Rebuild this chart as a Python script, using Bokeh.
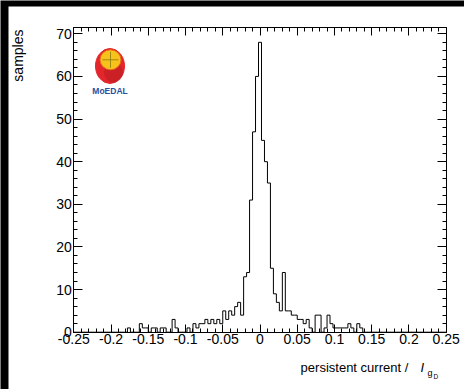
from math import pi
from bokeh.plotting import figure
from bokeh.models import FixedTicker, LinearAxis, Label, Range1d
from bokeh.embed import file_html
from bokeh.resources import INLINE

# ---- data ----
x_min, x_max = -0.25, 0.25
bin_width = 0.004
counts = [
    0, 0, 0, 0, 0, 0, 0, 0, 0, 0,          # 0-9
    0, 0, 0, 0, 0, 0, 0, 0, 1, 0,          # 10-19
    0, 0, 2, 1, 1, 0, 1, 1, 0, 1,          # 20-29
    1, 0, 0, 3, 1, 0, 0, 0, 1, 0,          # 30-39
    2, 1, 2, 2, 3, 2, 3, 2, 3, 2,          # 40-49
    5, 3, 5, 4, 6, 7, 4, 13, 14, 31,       # 50-59
    47, 60, 68, 45, 40, 35, 15, 9, 7, 5,   # 60-69
    14, 5, 5, 4, 4, 3, 3, 2, 3, 1,         # 70-79
    0, 4, 4, 0, 1, 4, 2, 1, 1, 1,          # 80-89
    1, 1, 2, 1, 0, 2, 1, 0, 0, 0,          # 90-99
    0, 0, 0, 0, 0, 0, 0, 0, 0, 0,          # 100-109
    0, 0, 0, 0, 0, 0, 0, 0, 0, 0,          # 110-119
    0, 0, 0, 0, 0,                         # 120-124
]
x_major_ticks = [-0.25, -0.2, -0.15, -0.1, -0.05, 0.0, 0.05, 0.1, 0.15, 0.2, 0.25]
x_tick_labels = ["-0.25", "-0.2", "-0.15", "-0.1", "-0.05", "0", "0.05", "0.1", "0.15", "0.2", "0.25"]
y_major_ticks = [0, 10, 20, 30, 40, 50, 60, 70]
y_max = 71.5
x_title = "persistent current  / "
y_title = "samples"

edges = [x_min + i * bin_width for i in range(len(counts) + 1)]
step_y = counts + [counts[-1]]
x_minor = [round(x_min + 0.01 * i, 4) for i in range(51)]
y_minor = list(range(0, 72, 2))

FONT = "Liberation Sans"

# ---- page geometry (figure fills the window from (0,0)) ----
W, H = 464, 389
PX_L, PX_R = 73.3, 445.7        # page x of x_min / x_max
PY_0, PY_70 = 331.7, 33.3       # page y of 0 / 70
sx = (PX_R - PX_L) / (x_max - x_min)
sy = (PY_0 - PY_70) / 70.0


def dx(px):
    return x_min + (px - PX_L) / sx


def dy(py):
    return (PY_0 - py) / sy


p = figure(width=W, height=H,
           x_range=Range1d(dx(0), dx(W)), y_range=Range1d(dy(H), dy(0)),
           output_backend="svg", toolbar_location=None,
           x_axis_location=None, y_axis_location=None,
           min_border_left=0, min_border_right=0, min_border_top=0, min_border_bottom=0)
p.grid.visible = False
p.outline_line_color = None
p.background_fill_color = "black"
p.border_fill_color = "black"

# white picture area inside the black surround
p.quad(left=[dx(8)], right=[dx(W + 2)], top=[dy(6)], bottom=[dy(H + 2)],
       fill_color="white", line_color=None)

overrides = {t: s for t, s in zip(x_major_ticks, x_tick_labels)}


def make_axis(loc, bounds, major, minor, tick_len, labels):
    ax = LinearAxis(fixed_location=loc, bounds=bounds,
                    ticker=FixedTicker(ticks=major, minor_ticks=minor))
    ax.major_tick_in = tick_len
    ax.major_tick_out = 0
    ax.minor_tick_in = tick_len // 2
    ax.minor_tick_out = 0
    ax.axis_line_color = "black"
    ax.major_tick_line_color = "black"
    ax.minor_tick_line_color = "black"
    ax.major_label_text_font = FONT
    ax.major_label_text_font_size = "14px"
    ax.major_label_standoff = 2
    if labels:
        ax.major_label_text_color = "black"
    else:
        ax.major_label_text_color = None
    return ax


bottom = make_axis(0, (x_min, x_max), x_major_ticks, x_minor, 8, True)
bottom.major_label_overrides = overrides
p.add_layout(bottom, "below")
p.add_layout(make_axis(y_max, (x_min, x_max), x_major_ticks, x_minor, 8, False), "above")
p.add_layout(make_axis(x_min, (0, y_max), y_major_ticks, y_minor, 9, True), "left")
p.add_layout(make_axis(x_max, (0, y_max), y_major_ticks, y_minor, 9, False), "right")

# histogram outline
p.step(x=edges, y=step_y, mode="after", line_color="black", line_width=1)

# MoEDAL logo
p.ellipse(x=dx(109.5), y=dy(65.5), width=29, height=35, width_units="screen", height_units="screen",
          fill_color="#e3262b", line_color="#e3262b")
p.ellipse(x=dx(113), y=dy(72), width=19, height=20, width_units="screen", height_units="screen",
          fill_color="#b81d22", line_color=None, fill_alpha=0.55)
p.ellipse(x=dx(110), y=dy(59.3), width=21, height=20, width_units="screen", height_units="screen",
          fill_color="#f7c21a", line_color="#e8661e", line_width=1)
p.segment(x0=[dx(102), dx(110)], y0=[dy(59.3), dy(51.3)], x1=[dx(118), dx(110)], y1=[dy(59.3), dy(67.3)],
          line_color="#8a7a10", line_width=0.8)
p.add_layout(Label(x=dx(109.5), y=dy(90.5), text="MoEDAL", text_align="center", text_baseline="middle",
                   text_font=FONT, text_font_size="8.5px", text_font_style="bold", text_color="#2c4f9e"))

# axis titles
p.add_layout(Label(x=dx(17), y=dy(29), text=y_title, angle=pi / 2, text_align="right",
                   text_baseline="middle", text_font=FONT, text_font_size="14px", text_color="black"))
p.add_layout(Label(x=dx(415), y=dy(367), text=x_title, text_align="right", text_baseline="middle",
                   text_font=FONT, text_font_size="13px", text_color="black"))
p.add_layout(Label(x=dx(420), y=dy(367), text="I", text_align="left", text_baseline="middle",
                   text_font=FONT, text_font_size="13px", text_font_style="italic", text_color="black"))
p.add_layout(Label(x=dx(427), y=dy(372), text="g", text_align="left", text_baseline="middle",
                   text_font=FONT, text_font_size="9px", text_color="black"))
p.add_layout(Label(x=dx(433), y=dy(376), text="D", text_align="left", text_baseline="middle",
                   text_font=FONT, text_font_size="6.5px", text_color="black"))

open("out.html", "w").write(file_html(p, INLINE))
